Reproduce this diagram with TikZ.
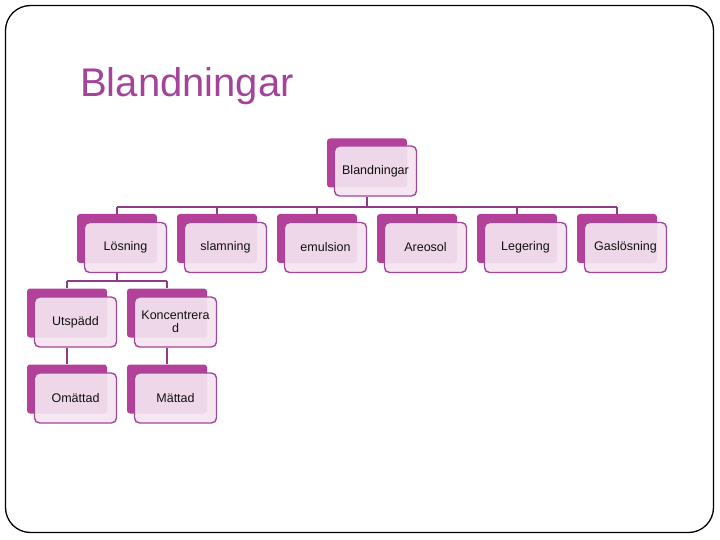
\documentclass[tikz,border=0pt]{standalone}
\usepackage{fontspec}
\setmainfont{Liberation Sans}
\begin{document}
\begin{tikzpicture}[x=1pt,y=-1pt,
  backbox/.style={draw=none,fill=backc,rounded corners=3pt,minimum width=80pt,minimum height=49pt,inner sep=0pt},
  frontbox/.style={draw=edgec,line width=1.4pt,fill=frontc,fill opacity=0.92,text opacity=1,rounded corners=5pt,minimum width=82pt,minimum height=50pt,inner sep=0pt,align=center,font=\fontsize{12.5}{13}\selectfont,text=textc},
  conn/.style={draw=connc,line width=2pt}]
\definecolor{backc}{HTML}{B3419A}
\definecolor{frontc}{HTML}{F4E4F0}
\definecolor{edgec}{HTML}{A3479A}
\definecolor{connc}{HTML}{8E3C86}
\definecolor{titlec}{HTML}{A3449A}
\definecolor{textc}{HTML}{111111}
\useasboundingbox (0,0) rectangle (720,540);
\draw[line width=1.3pt,rounded corners=25pt] (5.5,5.5) rectangle (713.5,532.5);
\node[anchor=base west,text=titlec,font=\fontsize{40}{44}\selectfont,inner sep=0pt] (title) at (80,97) {Blandningar};
\coordinate (bar1) at (0,207);
\coordinate (bar2) at (0,281);
% back boxes
\node[backbox] (broot) at (367,163) {};
\node[backbox] (blo) at (117,238.5) {};
\node[backbox] (bsl) at (217,238.5) {};
\node[backbox] (bem) at (317,238.5) {};
\node[backbox] (bar) at (417,238.5) {};
\node[backbox] (ble) at (517,238.5) {};
\node[backbox] (bga) at (617,238.5) {};
\node[backbox] (but) at (67,313) {};
\node[backbox] (bko) at (167,313) {};
\node[backbox] (bom) at (67,389) {};
\node[backbox] (bma) at (167,389) {};
% front boxes
\node[frontbox] (root) at (375.5,171) {Blandningar};
\node[frontbox] (lo) at (125.5,247.5) {Lösning};
\node[frontbox] (sl) at (225.5,247.5) {slamning};
\node[frontbox] (em) at (325.5,247.5) {emulsion};
\node[frontbox] (ar) at (425.5,247.5) {Areosol};
\node[frontbox] (le) at (525.5,247.5) {Legering};
\node[frontbox] (ga) at (625.5,247.5) {Gaslösning};
\node[frontbox] (ut) at (75.5,322) {Utspädd};
\node[frontbox] (ko) at (175.5,322) {Koncentrera\\d};
\node[frontbox] (om) at (75.5,398) {Omättad};
\node[frontbox] (ma) at (175.5,398) {Mättad};
% connectors
\draw[conn] (root.south -| broot) -- (bar1 -| broot);
\draw[conn] (bar1 -| blo) -- (bar1 -| bga);
\foreach \c in {blo,bsl,bem,bar,ble,bga}{\draw[conn] (bar1 -| \c) -- (\c.north);}
\draw[conn] (lo.south -| blo) -- (bar2 -| blo);
\draw[conn] (bar2 -| but) -- (bar2 -| bko);
\draw[conn] (bar2 -| but) -- (but.north);
\draw[conn] (bar2 -| bko) -- (bko.north);
\draw[conn] (ut.south -| but) -- (bom.north);
\draw[conn] (ko.south -| bko) -- (bma.north);
\end{tikzpicture}
\end{document}
